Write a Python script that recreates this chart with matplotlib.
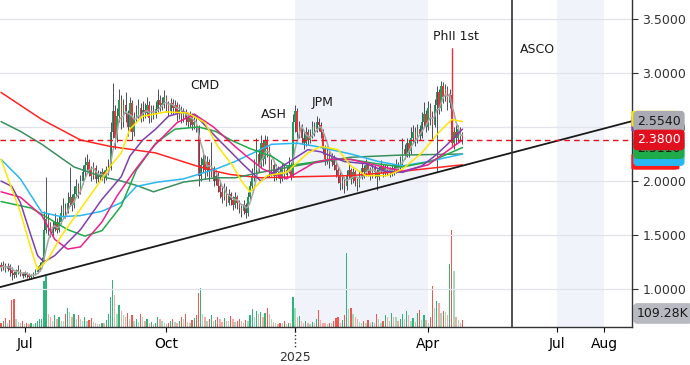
import numpy as np
import pandas as pd
import matplotlib
matplotlib.use("Agg")
import matplotlib.pyplot as plt
from matplotlib.patches import FancyBboxPatch
from matplotlib.transforms import blended_transform_factory

# ---- daily bars (trading-day index 0..215) ----
first_open = 1.22
closes = [
    1.20, 1.22, 1.19, 1.21, 1.18,
    1.15, 1.13, 1.16, 1.18, 1.14, 1.12, 1.15, 1.13, 1.11, 1.12, 1.14,
    1.16, 1.18, 1.22, 1.25,
    1.55,
    1.65, 1.58, 1.52, 1.56, 1.62, 1.55,
    1.62, 1.70, 1.75, 1.72, 1.80, 1.85, 1.78, 1.88, 1.95, 1.90,
    2.00, 2.08, 2.15, 2.18, 2.10, 2.05, 2.12, 2.02, 2.06,
    2.04, 2.08, 2.03, 2.10, 2.12,
    2.45, 2.65, 2.40,
    2.60, 2.75, 2.55, 2.70, 2.62, 2.50, 2.72, 2.45, 2.58,
    2.62, 2.68, 2.60, 2.66, 2.63, 2.70, 2.58, 2.65, 2.62, 2.67, 2.75, 2.70, 2.72,
    2.78, 2.70, 2.65, 2.72, 2.68, 2.70, 2.62, 2.66, 2.60, 2.64, 2.58, 2.55, 2.60, 2.52, 2.55,
    2.50,
    2.05,
    2.15, 2.20, 2.10, 2.18, 2.08, 2.12,
    2.00, 2.05, 1.95, 1.90, 1.85, 1.92, 1.80, 1.88, 1.82, 1.78, 1.85, 1.80,
    1.75, 1.72, 1.78, 1.70,
    1.85, 1.95, 2.05, 2.10,
    2.25, 2.15, 2.35, 2.20, 2.38, 2.30, 2.10, 2.15,
    2.05, 2.10, 2.08, 2.02, 2.12, 2.06, 2.10, 2.15, 2.05,
    2.55, 2.65, 2.45, 2.50,
    2.40, 2.35, 2.45, 2.38, 2.42,
    2.50, 2.48, 2.55, 2.52, 2.45,
    2.30, 2.20, 2.28, 2.18, 2.22,
    2.15, 2.10, 2.05, 1.98, 2.00, 1.95, 2.05, 2.10,
    2.02, 2.08, 2.00, 1.96, 2.05, 2.12, 2.08, 2.15, 2.10,
    2.06, 2.12, 2.08, 2.04, 2.10, 2.14, 2.08, 2.12, 2.10,
    2.08, 2.12, 2.10, 2.15, 2.12, 2.18,
    2.30, 2.25, 2.35, 2.28, 2.40,
    2.45, 2.38, 2.48, 2.42,
    2.55, 2.62, 2.50, 2.68, 2.58, 2.52,
    2.70, 2.82, 2.68, 2.88, 2.78, 2.85,
    2.72, 2.80,
    2.35,
    2.45, 2.40, 2.48, 2.42, 2.38,
]
highs = [
    1.25, 1.26, 1.24, 1.24, 1.23,
    1.20, 1.17, 1.19, 1.22, 1.19, 1.16, 1.17, 1.16, 1.15, 1.14, 1.16,
    1.19, 1.21, 1.25, 1.30,
    1.72,
    2.04, 1.70, 1.62, 1.63, 1.70, 1.66,
    1.68, 1.78, 1.84, 1.80, 1.90, 2.13, 1.88, 1.95, 2.02, 1.98,
    2.06, 2.15, 2.22, 2.25, 2.20, 2.14, 2.18, 2.15, 2.10,
    2.09, 2.12, 2.10, 2.14, 2.20,
    2.55, 2.91, 2.70,
    2.68, 2.85, 2.80, 2.76, 2.82, 2.66, 2.78, 2.75, 2.64,
    2.70, 2.76, 2.72, 2.74, 2.72, 2.78, 2.74, 2.70, 2.70, 2.74, 2.85, 2.80, 2.78,
    2.84, 2.80, 2.74, 2.77, 2.76, 2.75, 2.73, 2.71, 2.69, 2.68, 2.67, 2.62, 2.65, 2.63, 2.60,
    2.58,
    2.52,
    2.22, 2.26, 2.24, 2.23, 2.20, 2.36,
    2.14, 2.10, 2.08, 1.99, 1.94, 1.98, 1.95, 1.93, 1.90, 1.86, 1.90, 1.87,
    1.82, 1.78, 1.82, 1.80,
    1.90, 2.00, 2.12, 2.20,
    2.40, 2.30, 2.43, 2.38, 2.43, 2.42, 2.32, 2.20,
    2.18, 2.16, 2.14, 2.12, 2.17, 2.15, 2.14, 2.22, 2.18,
    2.62, 2.70, 2.68, 2.56,
    2.53, 2.45, 2.50, 2.48, 2.48,
    2.56, 2.55, 2.60, 2.58, 2.55,
    2.48, 2.33, 2.32, 2.30, 2.26,
    2.24, 2.18, 2.14, 2.08, 2.05, 2.04, 2.10, 2.16,
    2.12, 2.12, 2.10, 2.03, 2.09, 2.18, 2.15, 2.20, 2.18,
    2.13, 2.16, 2.15, 2.11, 2.14, 2.19, 2.16, 2.16, 2.15,
    2.13, 2.16, 2.15, 2.20, 2.18, 2.23,
    2.40, 2.34, 2.40, 2.38, 2.50,
    2.52, 2.50, 2.53, 2.52,
    2.64, 2.73, 2.66, 2.74, 2.72, 2.65,
    2.76, 2.88, 2.85, 2.93, 2.92, 2.90,
    2.88, 2.85,
    3.23,
    2.50, 2.52, 2.52, 2.50, 2.45,
]
lows = [
    1.17, 1.18, 1.16, 1.17, 1.12,
    1.08, 1.10, 1.11, 1.14, 1.12, 1.10, 1.11, 1.10, 1.09, 1.09, 1.11,
    1.13, 1.15, 1.17, 1.21,
    1.24,
    1.52, 1.50, 1.48, 1.49, 1.54, 1.52,
    1.53, 1.60, 1.67, 1.66, 1.70, 1.77, 1.72, 1.75, 1.85, 1.84,
    1.88, 1.97, 2.04, 2.10, 2.05, 2.00, 2.02, 1.98, 1.99,
    2.00, 2.01, 1.98, 2.01, 2.06,
    2.10, 2.40, 2.30,
    2.36, 2.55, 2.48, 2.50, 2.55, 2.42, 2.46, 2.38, 2.42,
    2.55, 2.58, 2.55, 2.56, 2.58, 2.60, 2.54, 2.55, 2.57, 2.58, 2.64, 2.65, 2.66,
    2.68, 2.64, 2.60, 2.62, 2.62, 2.63, 2.56, 2.57, 2.54, 2.55, 2.52, 2.50, 2.50, 2.47, 2.48,
    2.45,
    1.95,
    2.00, 2.08, 2.02, 2.05, 2.00, 2.04,
    1.95, 1.96, 1.90, 1.84, 1.80, 1.82, 1.77, 1.78, 1.78, 1.73, 1.75, 1.74,
    1.70, 1.67, 1.69, 1.66,
    1.68, 1.82, 1.92, 2.00,
    2.06, 2.08, 2.12, 2.14, 2.16, 2.22, 2.04, 2.05,
    2.00, 2.01, 2.03, 1.98, 2.00, 2.02, 2.03, 2.07, 2.01,
    2.04, 2.45, 2.38, 2.40,
    2.34, 2.30, 2.32, 2.33, 2.35,
    2.40, 2.42, 2.45, 2.46, 2.40,
    2.25, 2.15, 2.16, 2.12, 2.14,
    2.10, 2.04, 1.98, 1.92, 1.93, 1.89, 1.92, 2.02,
    1.97, 1.98, 1.95, 1.91, 1.94, 2.02, 2.03, 2.05, 2.05,
    2.01, 2.03, 2.03, 1.92, 2.01, 2.07, 2.04, 2.05, 2.06,
    2.04, 2.05, 2.06, 2.07, 2.08, 2.10,
    2.15, 2.20, 2.22, 2.22, 2.25,
    2.36, 2.32, 2.35, 2.38,
    2.40, 2.50, 2.45, 2.47, 2.52, 2.38,
    2.50, 2.08, 2.62, 2.65, 2.72, 2.74,
    2.66, 2.68,
    2.32,
    2.30, 2.34, 2.36, 2.37, 2.34,
]
volume_k = [
    60, 90, 140, 70, 110,
    420, 440, 130, 80, 60, 90, 50, 70, 40, 60, 50,
    70, 90, 120, 120,
    720,
    790, 200, 150, 90, 180, 120,
    150, 100, 90, 200, 290, 230, 160, 200, 130, 180,
    120, 100, 150, 90, 110, 140, 80, 60, 50,
    40, 70, 60, 110, 200,
    470, 730, 500,
    200, 340, 250, 180, 150, 220, 120, 180, 90,
    130, 80, 200, 150, 90, 120, 60, 80, 50, 70, 150, 120, 90,
    60, 40, 60, 100, 130, 80, 60, 90, 150, 120, 200, 80, 60, 110, 140,
    180,
    520,
    610, 200, 150, 100, 130, 180,
    90, 110, 150, 120, 80, 140, 100, 90, 170, 130, 80, 100,
    120, 90, 70, 110,
    90, 180, 280, 150,
    250, 200, 240, 150, 220, 300, 200, 120,
    80, 60, 50, 70, 60, 90, 40, 70, 60,
    470, 290, 150, 170,
    90, 60, 100, 70, 50,
    80, 60, 120, 270, 110,
    70, 60, 50, 70, 60,
    100, 140, 150, 70, 110, 180, 1140, 280,
    300, 200, 150, 120, 80, 60, 90, 70, 110,
    60, 80, 70, 200, 120, 60, 90, 180, 150,
    100, 220, 160, 150, 90, 120,
    200, 120, 250, 190, 100,
    140, 80, 220, 260,
    110, 180, 110, 70, 150, 635,
    300, 410, 375, 220, 250, 230,
    180, 980,
    1500,
    860, 160, 110, 70, 109.28,
]

# ---- moving averages, sampled along the bar index ----
ma_yellow_idx = [0, 9, 14, 17, 22, 28, 37, 47, 51, 56, 60, 66, 77, 87, 95, 101, 108, 112, 116, 124,
                 133, 143, 149, 157, 163, 170, 180, 187, 196, 204, 210, 215]
ma_yellow = [2.20, 1.71, 1.37, 1.18, 1.28, 1.49, 1.74, 2.02, 2.14, 2.26, 2.48, 2.60, 2.64, 2.63, 2.54,
             2.32, 2.14, 2.00, 1.90, 2.05, 2.08, 2.26, 2.32, 2.29, 2.14, 2.05, 2.05, 2.11, 2.26, 2.45,
             2.57, 2.55]
ma_purple_idx = [0, 5, 9, 14, 17, 20, 25, 31, 37, 47, 56, 60, 66, 72, 78, 85, 91, 100, 109, 113, 121,
                 129, 136, 143, 149, 160, 170, 179, 187, 196, 202, 208, 215]
ma_purple = [2.00, 1.95, 1.80, 1.49, 1.31, 1.25, 1.31, 1.43, 1.55, 1.83, 2.04, 2.23, 2.38, 2.48, 2.60,
             2.64, 2.60, 2.41, 2.23, 2.15, 2.00, 2.11, 2.20, 2.29, 2.27, 2.18, 2.16, 2.09, 2.08, 2.14,
             2.23, 2.34, 2.48]
ma_pink_idx = [0, 9, 19, 25, 31, 37, 47, 54, 62, 71, 82, 90, 99, 109, 115, 122, 133, 146, 153, 163,
               176, 187, 199, 215]
ma_pink = [1.90, 1.85, 1.68, 1.46, 1.37, 1.39, 1.62, 1.86, 2.09, 2.32, 2.54, 2.62, 2.50, 2.32, 2.22,
           2.11, 2.02, 2.17, 2.20, 2.20, 2.14, 2.09, 2.15, 2.38]
ma_green_idx = [0, 14, 31, 39, 47, 56, 63, 72, 81, 92, 100, 107, 116, 126, 133, 144, 153, 163, 175,
                187, 200, 215]
ma_green = [1.81, 1.75, 1.55, 1.49, 1.54, 1.77, 2.10, 2.35, 2.48, 2.50, 2.46, 2.38, 2.30, 2.23, 2.14,
            2.17, 2.20, 2.20, 2.16, 2.13, 2.18, 2.31]
ma_cyan_idx = [0, 9, 19, 28, 37, 47, 56, 63, 73, 85, 100, 109, 126, 138, 147, 163, 176, 187, 199, 215]
ma_cyan = [2.20, 2.02, 1.71, 1.67, 1.68, 1.72, 1.80, 1.95, 1.99, 2.02, 2.11, 2.18, 2.34, 2.35, 2.32,
           2.25, 2.18, 2.14, 2.18, 2.25]
ma_dkgreen_idx = [0, 9, 19, 34, 47, 56, 63, 71, 85, 100, 109, 121, 140, 163, 186, 215]
ma_dkgreen = [2.55, 2.46, 2.34, 2.13, 2.04, 2.00, 1.96, 1.90, 1.99, 2.03, 2.03, 2.08, 2.15, 2.22, 2.24,
              2.25]
ma_red_idx = [0, 19, 37, 51, 72, 91, 100, 107, 121, 140, 163, 187, 215]
ma_red = [2.82, 2.57, 2.38, 2.32, 2.26, 2.14, 2.09, 2.06, 2.03, 2.04, 2.05, 2.09, 2.15]

# trend line anchors (bar index, price)
trend_pts = [(0, 1.02), (238, 2.262)]

tick_idx = [11, 77, 137, 199, 259, 281]
tick_lbl = ["Jul", "Oct", "", "Apr", "Jul", "Aug"]
year_idx, year_lbl = 137, "2025"
shade_spans = [(137, 199), (259, 281)]
event_line_idx = 238

events = [("CMD", 95, 2.88), ("ASH", 127, 2.62), ("JPM", 150, 2.73),
          ("PhII 1st", 212, 3.335), ("ASCO", 250, 3.215)]

last_price = 2.38
# price tags on the right axis, drawn bottom-up so later ones cover earlier ones
hidden_tags = [(2.18, "#ff1a1a"), (2.53, "#7e3fae"), (2.575, "#ffe600")]
side_labels = [  # text, value, face, text colour
    ("2.2501", 2.235, "#2ab7f0", "#1a1a1a"),
    ("2.3110", 2.30, "#1fab4a", "#1a1a1a"),
    ("2.5540", 2.554, "#a9abb3", "#1a1a1a"),
    ("2.3800", 2.38, "#e0101e", "#ffffff"),
]

GREEN, RED = "#1f9e58", "#e8313a"

fig = plt.figure(figsize=(6.9, 3.65), dpi=100)
vol = fig.add_axes([0.0, 0.104, 0.916, 0.896])
ax = vol.twinx()
vol.set_zorder(0)
ax.set_zorder(1)
ax.patch.set_visible(False)

n = len(closes)
x = np.arange(n)
c = np.asarray(closes)
o = np.concatenate([[first_open], c[:-1]])
h = np.asarray(highs)
l = np.asarray(lows)
v = np.asarray(volume_k, dtype=float)
up = c >= o

# volume
prev_v = np.concatenate([[v[0]], v[:-1]])
vcol = np.where(up, np.where(v >= prev_v, "#2fb57a", "#9edcbc"),
                np.where(v >= prev_v, "#f2564f", "#f8a9a3"))
for a, b in shade_spans:
    vol.axvspan(a, b, color="#f0f3fa", lw=0, zorder=0)
vol.bar(x, v, width=0.6, color=vcol, zorder=2)
vol.set_ylim(0, 5060)
vol.set_yticks([])
for s in vol.spines.values():
    s.set_visible(False)

# candles
ax.vlines(x, l, h, color="#30333d", lw=0.6, zorder=3)
body_lo = np.minimum(o, c)
body_h = np.maximum(np.abs(c - o), 0.008)
ax.bar(x, body_h, bottom=body_lo, width=0.7, color=np.where(up, GREEN, RED), lw=0, zorder=4)
ax.vlines([x[-6]], [l[-6]], [h[-6]], color=RED, lw=1.0, zorder=4)

# moving averages
gray_ma = pd.Series(c).rolling(5, min_periods=1).mean()
ax.plot(x, gray_ma, color="#a6a6a6", lw=1.1, zorder=5)
for xs, ys, col in [(ma_red_idx, ma_red, "#ff2424"), (ma_dkgreen_idx, ma_dkgreen, "#3a8f5c"),
                    (ma_cyan_idx, ma_cyan, "#2ab7f0"), (ma_green_idx, ma_green, "#1fab4a"),
                    (ma_pink_idx, ma_pink, "#f01e8c"), (ma_purple_idx, ma_purple, "#7e3fae"),
                    (ma_yellow_idx, ma_yellow, "#ffe600")]:
    ax.plot(xs, ys, color=col, lw=1.1, zorder=5, solid_capstyle="round")

ax.axline(trend_pts[0], trend_pts[1], color="#1a1a1a", lw=1.3, zorder=6)
ax.axhline(last_price, color="#e0101e", lw=1.0, ls=(0, (4, 3)), zorder=6)
ax.axvline(event_line_idx, color="#333333", lw=1.2, zorder=6)

for txt, xi, yv in events:
    ax.text(xi, yv, txt, ha="center", va="center", fontsize=9, color="#1a1a1a", zorder=7)

ax.set_xlim(-0.5, 294)
ax.set_ylim(0.648, 3.676)
ax.set_yticks([1.0, 1.5, 2.0, 2.5, 3.0, 3.5])
ax.yaxis.set_major_formatter(plt.FuncFormatter(lambda val, p: f"{val:.4f}"))
ax.yaxis.tick_right()
ax.set_xticks(tick_idx)
ax.set_xticklabels(tick_lbl)
ax.tick_params(axis="both", labelsize=9, colors="#333333", length=4, width=0.8)
ax.xaxis.get_major_ticks()[2].tick1line.set_visible(False)
ax.grid(True, color="#e1e4ea", lw=0.9, zorder=0)
ax.set_axisbelow(True)
for side in ("top", "left"):
    ax.spines[side].set_visible(False)
for side in ("right", "bottom"):
    ax.spines[side].set_color("#333333")
    ax.spines[side].set_linewidth(1.0)

tr = blended_transform_factory(ax.transData, ax.transAxes)
ax.plot([year_idx, year_idx], [0, -0.06], transform=tr, color="#333333", lw=1.0, ls=":",
        clip_on=False)
ax.text(year_idx, -0.092, year_lbl, transform=tr, ha="center", va="center", fontsize=9,
        color="#333333", clip_on=False)

ytr = blended_transform_factory(ax.transAxes, ax.transData)
for yv, fc in hidden_tags:
    ax.add_patch(FancyBboxPatch((1.004, yv - 0.065), 0.066, 0.13, transform=ytr, clip_on=False,
                                boxstyle="round,pad=0.004,rounding_size=0.008", fc=fc, ec=fc,
                                zorder=9))
for txt, yv, fc, tc in side_labels:
    ax.text(1.008, yv, txt, transform=ytr, ha="left", va="center", fontsize=9, color=tc,
            zorder=10, clip_on=False,
            bbox=dict(boxstyle="round,pad=0.25,rounding_size=0.25", fc=fc, ec=fc))
vtr = blended_transform_factory(vol.transAxes, vol.transData)
vol.text(1.008, volume_k[-1], f"{volume_k[-1]:.2f}K", transform=vtr, ha="left", va="bottom",
         fontsize=9, color="#1a1a1a", clip_on=False, zorder=10,
         bbox=dict(boxstyle="round,pad=0.25,rounding_size=0.25", fc="#b8bac2", ec="#b8bac2"))

fig.savefig("out.png", dpi=100)
